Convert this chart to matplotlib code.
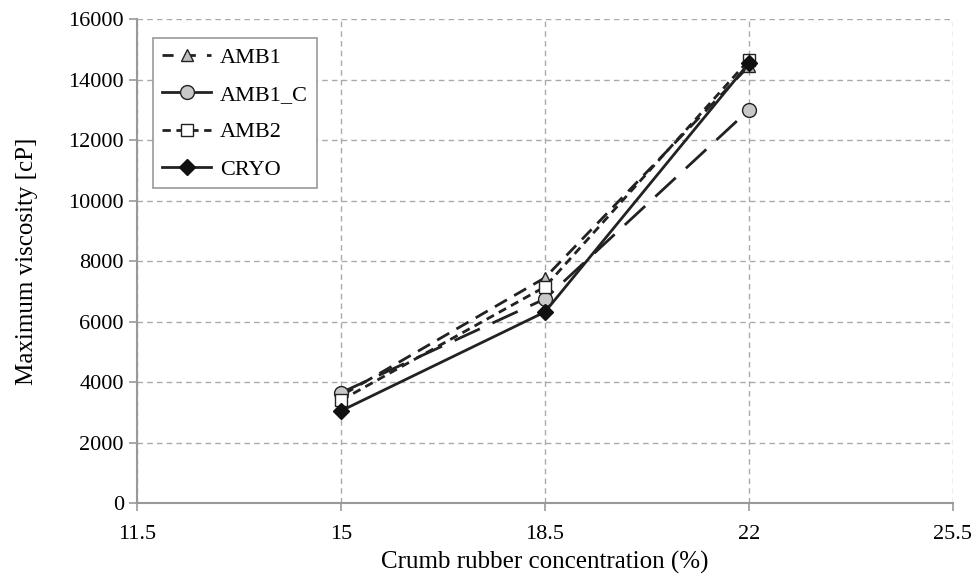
import matplotlib.pyplot as plt
from matplotlib.lines import Line2D

plt.rcParams["font.family"] = ["Liberation Serif", "DejaVu Serif"]

conc = [15, 18.5, 22]
amb1 = [3550, 7450, 14450]
amb1_c = [3650, 6750, 13000]
amb2 = [3400, 7150, 14650]
cryo = [3050, 6320, 14550]

x_ticks = [11.5, 15, 18.5, 22, 25.5]
y_ticks = list(range(0, 16001, 2000))

fig = plt.figure(figsize=(9.76, 5.77), dpi=100)
ax = fig.add_axes([0.1404, 0.128, 0.836, 0.839])

# lines as drawn in the plot area
ax.plot(conc, amb1, color="#222222", lw=2, dashes=(5, 3), marker="^",
        ms=9, mfc="#bfbfbf", mec="#222222", mew=1, zorder=3)
ax.plot(conc, amb1_c, color="#222222", lw=2, dashes=(10, 5), marker="o",
        ms=10, mfc="#c8c8c8", mec="#222222", mew=1, zorder=3)
ax.plot(conc, amb2, color="#222222", lw=2, dashes=(3, 2), marker="s",
        ms=9, mfc="white", mec="#222222", mew=1, zorder=3)
ax.plot(conc, cryo, color="#222222", lw=2, marker="D",
        ms=8, mfc="#111111", mec="#111111", zorder=4)

ax.set_xlim(11.5, 25.5)
ax.set_ylim(0, 16000)
ax.set_xticks(x_ticks)
ax.set_xticklabels(["11.5", "15", "18.5", "22", "25.5"])
ax.set_yticks(y_ticks)
ax.tick_params(labelsize=16, color="#999999", length=6, width=1.2)
ax.tick_params(axis="x", pad=10)
ax.grid(True, color="#aaaaaa", linestyle=(0, (4, 3)), linewidth=1)
ax.set_axisbelow(True)
for side in ["top", "right"]:
    ax.spines[side].set_visible(False)
for side in ["left", "bottom"]:
    ax.spines[side].set_color("#999999")
    ax.spines[side].set_linewidth(1.5)

ax.set_xlabel("Crumb rubber concentration (%)", fontsize=18, labelpad=5)
ax.set_ylabel("Maximum viscosity [cP]", fontsize=18, labelpad=22)

# legend handles as shown in the legend box
handles = [
    Line2D([], [], color="#222222", lw=2, dashes=(4, 4), marker="^", ms=9,
           mfc="#bfbfbf", mec="#222222"),
    Line2D([], [], color="#222222", lw=2, marker="o", ms=10,
           mfc="#c8c8c8", mec="#222222"),
    Line2D([], [], color="#222222", lw=2, dashes=(3, 2), marker="s", ms=9,
           mfc="white", mec="#222222"),
    Line2D([], [], color="#222222", lw=2, marker="D", ms=8,
           mfc="#111111", mec="#111111"),
]
leg = ax.legend(handles, ["AMB1", "AMB1_C", "AMB2", "CRYO"], loc="upper left",
                bbox_to_anchor=(0.02, 0.96), borderaxespad=0, fontsize=16,
                frameon=True, fancybox=False, framealpha=1,
                edgecolor="#999999", handlelength=2.2, handletextpad=0.4,
                labelspacing=0.75, borderpad=0.4)
leg.get_frame().set_linewidth(1.2)

fig.savefig("out.png", dpi=100)
